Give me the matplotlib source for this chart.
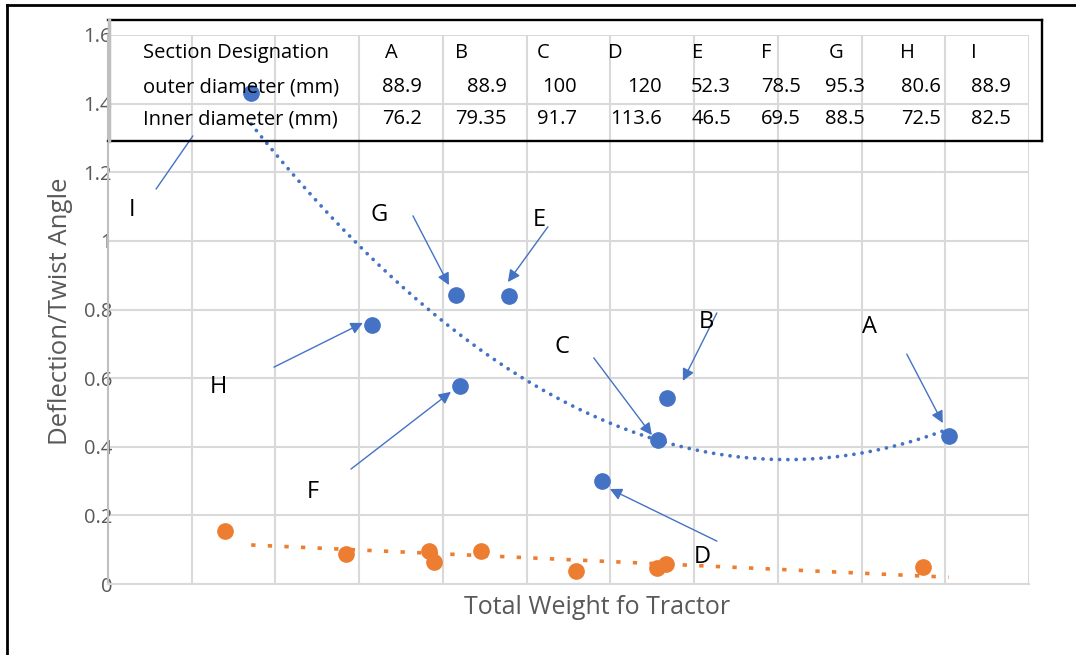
import numpy as np
import matplotlib.pyplot as plt

plt.rcParams['font.family'] = ['Open Sans', 'DejaVu Sans']

BLUE = '#4472C4'
ORANGE = '#ED7D31'
GREY = '#595959'

# blue series: one point per section A..I
defl_x = [5020, 3340, 3285, 2950, 2395, 2105, 2080, 1575, 855]
defl_y = [0.431, 0.542, 0.420, 0.300, 0.839, 0.577, 0.842, 0.755, 1.431]

# orange series
twist_x = [698, 1421, 1916, 1946, 2227, 2794, 3278, 3331, 4866]
twist_y = [0.154, 0.087, 0.096, 0.064, 0.096, 0.038, 0.047, 0.058, 0.050]

# table in the top of the chart
sections = ['A', 'B', 'C', 'D', 'E', 'F', 'G', 'H', 'I']
outer_d = ['88.9', '88.9', '100', '120', '52.3', '78.5', '95.3', '80.6', '88.9']
inner_d = ['76.2', '79.35', '91.7', '113.6', '46.5', '69.5', '88.5', '72.5', '82.5']
row_names = ['Section Designation', 'outer diameter (mm)', 'Inner diameter (mm)']

# callouts: letter, text pos, arrow tail, arrow tip (data coords)
callouts = [
    ('I', (143, 1.090), (287, 1.151), (507, 1.306), False),
    ('H', (657, 0.574), (991, 0.632), (1522, 0.761), True),
    ('G', (1618, 1.075), (1821, 1.073), (2036, 0.871), True),
    ('E', (2573, 1.061), (2627, 1.041), (2388, 0.880), True),
    ('F', (1224, 0.268), (1451, 0.335), (2048, 0.560), True),
    ('C', (2711, 0.691), (2901, 0.659), (3248, 0.434), True),
    ('B', (3576, 0.764), (3636, 0.790), (3433, 0.592), True),
    ('A', (4549, 0.749), (4770, 0.670), (4985, 0.469), True),
    ('D', (3552, 0.079), (3636, 0.125), (2997, 0.277), True),
]

W, H = 1076, 655


def fx(px):
    return px / W


def fy(py):
    return 1 - py / H


fig = plt.figure(figsize=(W / 100, H / 100), dpi=100)
ax = fig.add_axes([fx(108), fy(584), (1029 - 108) / W, (584 - 35) / H])

ax.set_xlim(0, 5500)
ax.set_ylim(0, 1.6)
ax.set_xticks(np.arange(0, 5501, 500))
ax.set_xticklabels([])
yt = np.arange(0, 1.61, 0.2)
ax.set_yticks(yt)
ax.set_yticklabels([f'{v:g}' for v in np.round(yt, 1)])
ax.tick_params(axis='both', length=0)
ax.tick_params(axis='y', pad=-3, labelsize=14.5, labelcolor=GREY)
ax.grid(color='#d9d9d9', lw=1.5)
ax.set_axisbelow(True)
for s in ['top', 'right']:
    ax.spines[s].set_visible(False)
ax.spines['left'].set_color('#bfbfbf')
ax.spines['left'].set_linewidth(1.5)
ax.spines['bottom'].set_color('#d9d9d9')
ax.spines['bottom'].set_linewidth(1.5)

# trendlines
tx = np.linspace(min(defl_x), max(defl_x), 300)
cb = np.polyfit(defl_x, defl_y, 2)
ax.plot(tx, np.polyval(cb, tx), color=BLUE, lw=2.7, ls=(0, (0.01, 2.2)),
        dash_capstyle='round', zorder=3)
co = np.polyfit(twist_x, twist_y, 1)
ax.plot(tx, np.polyval(co, tx), color=ORANGE, lw=2.6, ls=(0, (1.2, 3.4)),
        dash_capstyle='butt', zorder=3)

ax.plot(defl_x, defl_y, 'o', ms=11, color=BLUE, zorder=5)
ax.plot(twist_x, twist_y, 'o', ms=11, color=ORANGE, zorder=5)

for lab, tpos, tail, tip, head in callouts:
    ax.annotate('', xy=tip, xytext=tail,
                arrowprops=dict(arrowstyle='-|>' if head else '-', color=BLUE,
                                lw=1, mutation_scale=18, shrinkA=0, shrinkB=0),
                zorder=4)
    ax.text(tpos[0], tpos[1], lab, fontsize=17, ha='center', va='center', zorder=4)

fig.text(fx(61), fy(311), 'Deflection/Twist Angle', rotation=90, ha='center',
         va='center', fontsize=18.5, color=GREY)
fig.text(fx(597), fy(608), 'Total Weight fo Tractor', ha='center', va='center',
         fontsize=18, color=GREY)

# table
row_y = [53, 87, 119]
head_left = [385, 455, 537, 608, 692, 761, 829, 900, 971]
num_right = [422, 507, 577, 662, 731, 801, 865, 941, 1011]
for name, y in zip(row_names, row_y):
    fig.text(fx(143), fy(y), name, ha='left', va='center', fontsize=14.5)
for i in range(len(sections)):
    fig.text(fx(head_left[i]), fy(row_y[0]), sections[i], ha='left', va='center', fontsize=14.5)
    fig.text(fx(num_right[i]), fy(row_y[1]), outer_d[i], ha='right', va='center', fontsize=14.5)
    fig.text(fx(num_right[i]), fy(row_y[2]), inner_d[i], ha='right', va='center', fontsize=14.5)

k = dict(color='black', lw=1.7, transform=fig.transFigure)
fig.add_artist(plt.Line2D([fx(108), fx(1042)], [fy(20), fy(20)], **k))
fig.add_artist(plt.Line2D([fx(1042), fx(1042)], [fy(20), fy(141)], **k))
fig.add_artist(plt.Line2D([fx(108), fx(1042)], [fy(141), fy(141)], **k))
fig.add_artist(plt.Line2D([fx(109), fx(109)], [fy(20), fy(141)], color='#bfbfbf',
                          lw=2.5, transform=fig.transFigure))

# outer frame (top and left only)
fr = dict(color='black', lw=2, transform=fig.transFigure)
fig.add_artist(plt.Line2D([fx(7), fx(W)], [fy(5), fy(5)], **fr))
fig.add_artist(plt.Line2D([fx(7), fx(7)], [fy(5), fy(H)], **fr))

fig.savefig('out.png', dpi=100)
